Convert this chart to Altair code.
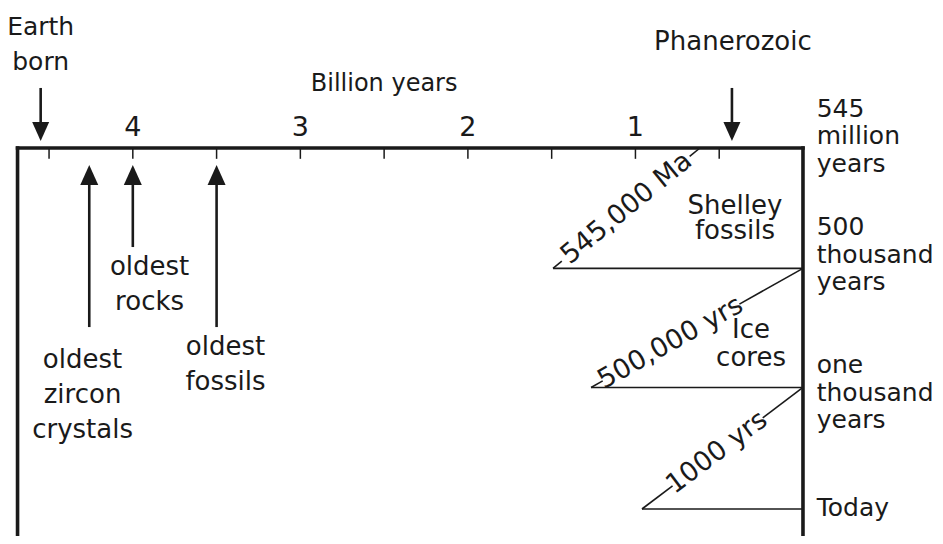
import math
import altair as alt
import pandas as pd

# ---------------------------------------------------------------- canvas / scales
W, H = 927, 528
X_DOM = [4.745, -0.788]      # billion years (old on the left, today on the right)
Y_DOM = [3.2244, -1.1635]    # rows: 0 = Ga scale line, 1 = 500 kyr, 2 = 1 kyr, 3 = today
XPX = W / (X_DOM[0] - X_DOM[1])
YPX = H / (Y_DOM[0] - Y_DOM[1])

INK = "#1a1a1a"
FONT = "DejaVu Sans"

# ---------------------------------------------------------------- data
# time scale (billion years)
minor_ticks = [4.5, 4.0, 3.5, 3.0, 2.5, 2.0, 1.5, 1.0, 0.5]
tick_labels = ["4", "3", "2", "1"]
tick_label_values = [4.0, 3.0, 2.0, 1.0]
axis_title = "Billion years"
box_left, box_right = 4.688, 0.0
box_top, box_bottom = 0.0, Y_DOM[0]
tick_len = 0.09

# events marked with down arrows (above the scale)
down_names = ["Earth\nborn", "Phanerozoic"]
down_x = [4.55, 0.424]
down_label_x = [4.55, 0.418]
down_label_y = [-0.939, -0.814]
down_shaft_top = -0.499
down_tip = -0.058

# events marked with up arrows (below the scale)
up_names = ["oldest\nzircon\ncrystals", "oldest\nrocks", "oldest\nfossils"]
up_x = [4.26, 4.0, 3.5]
up_tail = [1.488, 0.823, 1.488]
up_label_x = [4.30, 3.90, 3.447]
up_label_y = [1.828, 1.055, 1.720]
up_tip = 0.141

# zoomed time windows
row_labels = ["545\nmillion\nyears", "500\nthousand\nyears", "one\nthousand\nyears", "Today"]
row_label_y = [-0.258, 0.723, 1.870, 3.058]
row_label_x = -0.082

rows = [1.0, 1.99, 3.0]
diag_text = ["545,000 Ma", "500,000 yrs", "1000 yrs"]
diag_lo_x = [1.492, 1.265, 0.961]
diag_lo_y = [1.0, 1.99, 3.0]
diag_hi_x = [0.615, 0.0, 0.0]
diag_hi_y = [0.0, 1.0, 1.99]
gap_start = [0.06, 0.055, 0.19]
gap_end = [0.93, 0.70, 0.75]
text_at = [0.50, 0.375, 0.465]

window_names = ["Shelley\nfossils", "Ice\ncores"]
window_x = [0.406, 0.310]
window_y = [0.548, 1.579]

# ---------------------------------------------------------------- helpers
XS = alt.Scale(domain=X_DOM, nice=False, zero=False)
YS = alt.Scale(domain=Y_DOM, nice=False, zero=False)


def rule_layer(df, width, cap="butt"):
    return alt.Chart(df).mark_rule(color=INK, strokeWidth=width, strokeCap=cap).encode(
        x=alt.X("x:Q", scale=XS, axis=None),
        y=alt.Y("y:Q", scale=YS, axis=None),
        x2="x2:Q",
        y2="y2:Q",
    )


def text_layer(df, size, align="center", baseline="alphabetic", line_height=35, angle=False):
    enc = dict(
        x=alt.X("x:Q", scale=XS, axis=None),
        y=alt.Y("y:Q", scale=YS, axis=None),
        text="t:N",
    )
    if angle:
        enc["angle"] = alt.Angle("a:Q", scale=None)
    return alt.Chart(df).mark_text(
        font=FONT, fontSize=size, color=INK, align=align, baseline=baseline,
        lineBreak="\n", lineHeight=line_height,
    ).encode(**enc)


def head_layer(df, path):
    return alt.Chart(df).mark_point(
        shape=path, size=400, filled=True, opacity=1, color=INK, strokeWidth=0
    ).encode(x=alt.X("x:Q", scale=XS, axis=None), y=alt.Y("y:Q", scale=YS, axis=None))


# ---------------------------------------------------------------- frame
frame = pd.DataFrame([
    dict(x=box_left, y=box_top, x2=box_right, y2=box_top),
    dict(x=box_left, y=box_top, x2=box_left, y2=box_bottom),
    dict(x=box_right, y=box_top, x2=box_right, y2=box_bottom),
])
ticks = pd.DataFrame(dict(x=minor_ticks, y=box_top, x2=minor_ticks, y2=tick_len))

# arrows
shafts = pd.DataFrame(
    [dict(x=v, y=down_shaft_top, x2=v, y2=down_tip - 0.1) for v in down_x]
    + [dict(x=v, y=up_tip + 0.1, x2=v, y2=t) for v, t in zip(up_x, up_tail)]
)
down_heads = pd.DataFrame(dict(x=down_x, y=down_tip))
up_heads = pd.DataFrame(dict(x=up_x, y=up_tip))

# zoom triangles
horiz = pd.DataFrame(dict(x=diag_lo_x, y=rows, x2=box_right, y2=rows))
segs, dlabels = [], []
for i in range(3):
    x0, y0, x1, y1 = diag_lo_x[i], diag_lo_y[i], diag_hi_x[i], diag_hi_y[i]
    pt = lambda f: (x0 + (x1 - x0) * f, y0 + (y1 - y0) * f)
    a, b = pt(gap_start[i]), pt(gap_end[i])
    segs.append(dict(x=x0, y=y0, x2=a[0], y2=a[1]))
    segs.append(dict(x=b[0], y=b[1], x2=x1, y2=y1))
    c = pt(text_at[i])
    ang = math.degrees(math.atan2((y0 - y1) * YPX, (x0 - x1) * XPX))
    dlabels.append(dict(x=c[0], y=c[1], t=diag_text[i], a=360 - ang))
segs = pd.DataFrame(segs)
dlabels = pd.DataFrame(dlabels)

# ---------------------------------------------------------------- text tables
tick_df = pd.DataFrame(dict(x=tick_label_values, y=-0.10, t=tick_labels))
title_df = pd.DataFrame(dict(x=[2.5], y=[-0.474], t=[axis_title]))
earth_df = pd.DataFrame(dict(x=down_label_x[:1], y=down_label_y[:1], t=down_names[:1]))
phan_df = pd.DataFrame(dict(x=down_label_x[1:], y=down_label_y[1:], t=down_names[1:]))
up_df = pd.DataFrame(dict(x=up_label_x, y=up_label_y, t=up_names))
right_df = pd.DataFrame(dict(x=row_label_x, y=row_label_y, t=row_labels))
shelley_df = pd.DataFrame(dict(x=window_x[:1], y=window_y[:1], t=window_names[:1]))
ice_df = pd.DataFrame(dict(x=window_x[1:], y=window_y[1:], t=window_names[1:]))

DOWN_HEAD = "M0,0L-0.85,-1.9L0.85,-1.9Z"
UP_HEAD = "M0,0L0.9,2L-0.9,2Z"

chart = alt.layer(
    rule_layer(ticks, 1.5),
    rule_layer(horiz, 1.6),
    rule_layer(segs, 1.6),
    rule_layer(shafts, 2.6),
    head_layer(down_heads, DOWN_HEAD),
    head_layer(up_heads, UP_HEAD),
    rule_layer(frame, 3.6, cap="square"),
    text_layer(tick_df, 27),
    text_layer(title_df, 24),
    text_layer(earth_df, 25, line_height=35),
    text_layer(phan_df, 26),
    text_layer(up_df, 26, line_height=35),
    text_layer(right_df, 25, align="left", line_height=27.5),
    text_layer(shelley_df, 26, line_height=25),
    text_layer(ice_df, 26, line_height=28),
    text_layer(dlabels, 27, baseline="middle", angle=True),
).properties(
    width=W, height=H, padding=0,
    autosize=alt.AutoSizeParams(type="none"),
    background="white",
).configure_view(stroke=None)

chart.save("out.html", embed_options={"renderer": "svg", "actions": False})
